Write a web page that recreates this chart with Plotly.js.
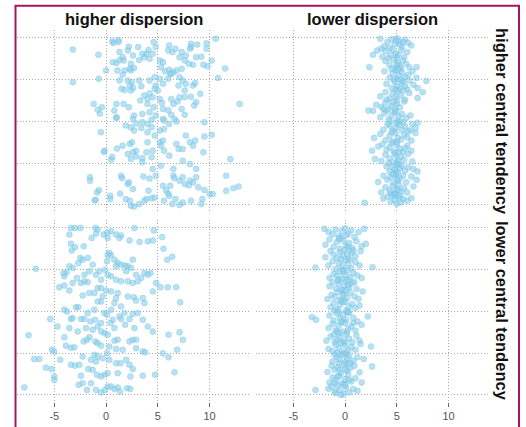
<!DOCTYPE html>
<html><head><meta charset="utf-8">
<script src="https://cdn.plot.ly/plotly-3.0.1.min.js"></script>
<style>html,body{margin:0;padding:0;background:#fff;overflow:hidden}#chart{width:526px;height:427px}</style>
</head><body><div id="chart"></div>
<script>
const colTitles = ['higher dispersion', 'lower dispersion'];
const rowTitles = ['higher central tendency', 'lower central tendency'];
const xTickVals = [-5, 0, 5, 10];
const xTickText = ['-5', '0', '5', '10'];
const yGridVals = [0, 1, 2, 3, 4];

// panel: higher dispersion / higher central tendency
const hdHiCentX = [-3.2,-0.74,0.6,1.2,0.7,1.2,10.6,9.7,9.7,8.2,8.8,8.2,6.1,6.7,6.0,6.4,4.6,4.8,4.1,3.9,3.7,
2.2,3.1,2.6,2.1,1.3,1.6,0.65,1.0,1.3,1.7,2.4,2.3,1.8,1.1,1.6,2.4,2.7,3.2,3.5,4.2,4.5,0,-0.7,-3.2,
5.2,5.5,5.3,5.7,6.1,6.2,6.5,6.8,7.3,7.6,8.0,8.4,8.7,9.2,9.4,10.2,9.8,7.1,7.3,7.7,8.1,11.5,10.8,
1.3,2.1,2.5,2.3,3.2,3.4,2.6,1.5,1.8,2.4,4.2,4.7,5.2,5.5,6.0,6.3,7.1,7.4,7.0,7.7,8.4,8.6,
4.8,5.0,4.7,4.2,4.5,4.0,3.3,3.7,5.2,5.4,7.6,7.6,8.2,8.7,9.1,8.5,7.1,6.9,6.3,6.5,6.0,6.3,
7.6,7.3,5.5,4.6,4.8,4.2,4.0,3.5,2.6,2.7,1.7,1.0,0.8,2.2,-1.2,-0.4,-0.6,1.0,12.9,
1.0,4.4,5.5,6.8,9.5,-0.5,-0.16,0.6,1.06,1.6,1.9,2.4,2.7,2.9,3.4,3.5,4.0,4.4,4.0,4.7,
5.2,5.5,5.3,5.6,6.1,6.8,7.0,7.4,7.7,8.1,8.4,8.6,9.4,9.5,10.2,5.6,6.1,6.6,5.2,5.6,
2.3,2.5,2.9,2.6,2.1,2.4,2.9,3.5,3.9,4.0,4.5,4.4,3.5,12.0,-1.55,-1.55,-0.7,-0.87,-1.1,
0.4,0.4,1.35,1.45,1.55,2.1,2.2,2.6,1.9,2.3,2.4,2.7,3.2,3.7,3.9,4.4,4.7,4.1,3.6,4.2,4.5,4.8,
5.5,5.8,6.0,6.2,6.5,6.6,7.1,7.4,7.6,8.1,8.0,8.4,8.7,8.7,8.9,9.5,10.0,9.3,9.2,8.2,7.4,7.1,6.7,6.4,5.6,6.1,
7.4,8.1,11.6,11.6,12.3,12.8,10.3,5.3,6.5,-0.2,-1.0,0.5,-0.8];
const hdHiCentY = [3.72,3.6,3.92,3.95,3.88,3.9,3.98,3.87,3.74,3.86,3.84,3.78,3.82,3.74,3.7,3.66,3.9,3.78,3.71,3.62,3.54,
3.79,3.78,3.58,3.7,3.66,3.54,3.42,3.4,3.47,3.46,3.38,3.26,3.22,3.22,3.12,3.22,3.28,3.47,3.62,3.5,3.62,3.22,3.02,2.94,
3.46,3.42,3.3,3.2,3.24,3.14,3.18,3.22,3.26,3.46,3.38,3.36,3.54,3.55,3.36,3.46,3.32,3.54,3.66,3.58,3.74,3.27,3.04,
2.98,2.98,2.94,2.86,2.98,2.84,2.8,2.78,2.75,2.74,2.98,3.06,3.02,2.9,3.02,3.14,3.06,2.98,2.86,2.9,2.86,2.92,
2.86,2.74,2.78,2.67,2.58,2.54,2.5,2.62,2.54,2.44,2.74,2.58,2.59,2.46,2.66,2.38,2.58,2.48,2.54,2.42,2.27,2.16,
2.16,2.3,2.3,2.34,2.14,2.22,2.42,2.18,2.06,2.14,2.42,2.42,2.26,2.34,2.42,2.34,2.19,2.1,2.42,
2.08,2.04,2.06,2.0,1.98,1.74,1.3,1.15,1.35,1.42,1.9,1.86,1.78,1.95,1.84,1.98,1.94,1.86,1.74,1.66,
1.5,1.54,1.42,1.3,1.18,1.46,1.34,1.34,1.66,1.5,1.42,1.54,1.26,1.64,1.68,2.02,1.94,2.06,1.78,1.82,
1.46,1.5,1.3,1.26,1.22,1.1,1.16,1.12,1.26,1.5,1.3,1.14,1.02,1.1,0.66,0.58,0.35,0.3,0.11,
0.22,0.14,0.27,0.7,0.64,0.5,0.54,0.38,0.14,0.1,-0.02,-0.04,0.02,0.1,0.14,0.16,0.18,0.34,0.68,0.63,0.86,0.7,
0.46,0.35,0.27,0.46,0.7,0.64,0.58,0.66,0.5,0.58,0.47,0.54,0.66,0.86,0.42,0.36,0.26,0.14,0.02,0.1,0.06,0.0,0.14,0.02,0.1,0.22,
1.06,0.98,0.7,0.34,0.4,0.44,0.26,0.94,0.86,1.27,0.12,1.08,2.28];

// panel: lower dispersion / higher central tendency
const ldHiCentX = [3.4,3.8,4.1,4.5,4.8,5.0,5.2,5.5,5.8,6.1,6.4,4.3,5.6,4.9,5.3,
2.7,3.1,3.6,3.9,4.2,4.6,4.9,5.1,5.4,5.7,6.0,4.4,5.0,3.5,
2.35,3.9,4.3,4.7,4.9,5.1,5.3,5.6,5.9,6.2,6.9,4.5,5.0,5.4,
3.8,4.3,4.6,4.9,5.0,5.2,5.5,5.8,6.1,6.5,6.9,4.7,5.4,5.1,
4.0,4.5,4.8,5.0,5.3,5.5,5.8,6.2,6.6,7.0,7.85,4.9,5.6,6.0,
3.4,3.9,4.3,4.6,4.9,5.1,5.4,5.8,6.2,7.0,7.5,4.0,5.0,5.6,
2.25,2.7,3.0,3.5,3.9,4.2,4.5,4.8,5.0,5.3,5.7,4.0,4.6,3.7,
3.4,3.8,4.2,4.5,4.8,5.0,5.2,5.5,5.9,6.3,7.0,4.9,5.3,4.4,
3.7,4.3,4.6,4.9,5.2,5.5,5.8,6.1,6.5,6.8,5.0,5.6,6.3,4.1,
2.8,3.4,3.9,4.3,4.6,4.9,5.1,5.4,5.7,6.0,6.4,6.8,5.0,4.5,
2.6,3.2,3.6,4.0,4.3,4.7,5.0,5.3,5.6,6.0,6.4,4.5,5.2,5.8,
2.9,3.5,3.9,4.3,4.6,4.9,5.1,5.4,5.7,6.1,6.5,4.8,5.0,4.2,
4.3,4.6,4.8,5.0,5.1,5.3,5.5,5.8,6.1,6.6,7.0,4.9,5.2,4.0,
3.2,3.7,4.1,4.4,4.7,4.9,5.1,5.3,5.6,5.9,6.4,6.9,5.0,4.6,
3.5,3.9,4.3,4.6,4.8,5.0,5.2,5.4,5.7,6.0,6.6,4.7,5.1,4.4,
1.9,3.7,4.1,4.4,4.6,4.8,5.0,5.2,5.4,5.6,6.0,6.4,4.9,5.3];
const ldHiCentY = [3.98,3.8,3.9,3.97,3.85,3.99,3.92,3.78,3.96,3.88,3.82,3.76,3.9,3.94,3.84,
3.6,3.7,3.55,3.68,3.52,3.72,3.62,3.58,3.7,3.54,3.66,3.6,3.52,3.74,
3.3,3.45,3.35,3.48,3.28,3.4,3.32,3.46,3.38,3.3,3.3,3.26,3.36,3.27,
3.2,3.05,3.15,3.22,3.02,3.1,3.18,3.06,3.12,3.2,3.04,3.0,3.0,3.24,
2.9,2.8,2.95,2.85,2.78,2.92,2.84,2.98,2.88,2.8,2.97,2.76,2.96,2.77,
2.6,2.7,2.55,2.66,2.58,2.72,2.62,2.52,2.68,2.56,2.7,2.52,2.5,2.74,
2.26,2.25,2.4,2.35,2.45,2.3,2.38,2.28,2.42,2.34,2.48,2.26,2.46,2.3,
2.1,2.2,2.05,2.15,2.22,2.02,2.12,2.18,2.08,2.14,1.97,2.24,2.0,2.0,
1.8,1.9,1.78,1.85,1.92,1.8,1.88,1.76,1.94,1.84,1.96,1.98,1.79,1.93,
1.6,1.7,1.55,1.65,1.52,1.72,1.6,1.56,1.68,1.62,1.54,1.72,1.5,1.74,
1.3,1.4,1.45,1.32,1.38,1.28,1.44,1.35,1.26,1.42,1.3,1.48,1.27,1.36,
1.1,1.05,1.2,1.12,1.02,1.18,1.06,1.15,1.08,1.22,1.04,1.24,1.0,1.0,
0.8,0.9,0.85,0.96,0.78,0.88,0.94,0.82,0.9,0.86,0.8,0.76,0.98,0.92,
0.55,0.7,0.6,0.66,0.52,0.72,0.58,0.64,0.7,0.54,0.68,0.6,0.62,0.74,
0.3,0.42,0.35,0.45,0.28,0.38,0.48,0.32,0.4,0.3,0.44,0.26,0.36,0.28,
0.05,0.15,0.2,0.08,0.22,0.12,0.02,0.18,0.06,0.14,0.1,0.16,0.24,0.22];

// panel: higher dispersion / lower central tendency
const hdLoCentX = [-3.39,-3.0,-2.48,-1.03,-0.81,-0.23,0.48,0.97,1.45,1.29,2.26,2.74,3.23,4.03,4.61,4.52,5.42,5.55,5.9,6.39,
-3.55,-3.39,-3.0,-3.32,-2.16,-1.39,-0.97,0.1,0.16,
-6.77,-4.03,-3.8,-4.1,-3.55,-3.2,-2.48,-2.26,-2.68,-1.77,-1.29,-1.61,-0.97,-0.65,-0.1,0.16,0.32,0.48,0.1,0.81,1.13,0.97,1.45,1.84,2.1,2.42,1.94,2.58,2.9,3.39,3.71,4.03,4.29,3.06,2.58,2.1,1.45,0.97,0.48,0.16,
-4.52,-4.03,-3.55,-3.23,-2.42,-2.1,-1.77,-2.26,-1.61,-1.13,-0.81,-0.48,-0.32,-0.48,0,0.48,0.97,1.13,2.1,2.68,2.9,3.71,3.55,4.84,5.26,5.97,6.77,7.16,4.52,
-5.39,-4.68,-4.03,-3.77,-3.39,-3.23,-2.9,-2.68,-2.42,-2.1,-1.52,-1.06,-0.81,-0.48,-0.16,0.1,0.42,0.81,1.29,1.45,2.26,2.58,3.06,4.03,4.52,6.03,7.1,7.42,-7.48,
-4.03,-3.87,-3.39,-3.06,-2.16,-1.84,-1.61,-1.03,-0.81,-0.48,-0.16,0.16,0.81,1.13,0.32,0.97,1.61,2.26,2.58,2.9,2.9,3.55,3.77,5.48,6.03,6.87,
-6.94,-6.45,-5.23,-5.0,-5.81,-5.26,-5.0,-5.0,-4.42,-3.39,-3.0,-2.58,-2.26,-1.71,-1.45,-1.13,-0.97,-0.81,-0.32,0.1,0.32,0.97,1.39,1.94,2.26,2.58,2.35,1.13,0.16,-0.16,-0.48,-0.87,-1.29,-2.42,-1.45,-2.26,-2.65,-1.84,-0.97,-0.48,-0.1,0.16,0.48,0.81,1.13,1.35,2.03,2.35,3.55,4.74,6.61,-7.9,
-2.1,-2.81,-0.48,-0.81,0.81,1.45,1.77,0.48,-1.13,-1.77,-3.55,-2.74,-1.94,-1.29,-0.48,0.65,1.84,2.74,3.55];
const hdLoCentY = [4.0,4.0,4.0,4.0,3.96,3.84,3.92,3.84,3.82,3.76,3.7,4.0,3.66,3.68,3.94,3.7,3.78,3.5,3.24,3.31,
3.84,3.62,3.54,3.46,3.56,3.76,3.86,3.88,3.76,
3.02,2.84,2.94,2.92,3.08,3.04,3.28,3.24,3.16,3.28,3.12,2.96,2.88,2.96,3.0,3.36,3.4,3.34,3.2,3.24,3.16,3.08,3.12,3.1,3.08,3.04,2.96,3.24,2.88,2.8,2.92,2.88,2.92,2.72,2.68,2.72,2.72,2.76,2.84,2.88,
2.58,2.62,2.5,2.68,2.68,2.72,2.7,2.38,2.44,2.44,2.56,2.56,2.36,2.24,2.5,2.48,2.32,2.44,2.36,2.34,2.26,2.2,2.32,2.68,2.58,2.58,2.58,2.22,2.48,
1.82,1.64,2.04,2.0,1.82,1.84,2.1,2.1,1.82,1.82,1.76,1.8,1.64,1.72,1.96,1.92,1.72,1.6,1.88,1.82,1.82,1.94,1.96,1.64,1.52,1.44,1.5,1.32,1.43,
1.38,1.18,1.13,1.14,1.28,1.32,1.38,1.28,1.24,1.18,1.48,1.44,1.3,1.32,1.16,1.1,1.08,1.28,1.32,1.32,1.12,1.04,1.02,1.0,0.9,1.08,
0.86,0.86,1.08,1.04,0.65,0.62,0.44,0.36,0.84,0.72,0.7,0.72,0.92,0.62,0.84,0.96,0.8,0.92,0.88,1.0,0.84,0.76,0.76,0.84,0.72,0.62,0.44,0.52,0.52,0.48,0.44,0.48,0.6,0.46,0.28,0.28,0.24,0.12,0.12,0.06,0.12,0.2,0.2,0.14,0.18,0.08,0.16,0.14,0.46,0.48,0.54,0.18,
2.88,2.8,2.76,2.24,2.2,2.12,1.96,2.04,2.04,1.96,1.6,1.52,1.6,1.56,1.52,1.8,1.68,1.6,1.8];

// panel: lower dispersion / lower central tendency
const ldLoCentX = [-2.0,-1.6,-1.2,-0.9,-0.6,-0.3,0,0.3,0.6,0.9,1.3,1.85,-0.4,0.1,
-1.9,-1.5,-1.1,-0.8,-0.5,-0.2,0.1,0.4,0.7,1.1,1.6,2.0,-0.6,0.3,
-1.9,-1.4,-1.1,-0.8,-0.5,-0.2,0.0,0.3,0.6,1.0,1.5,-0.4,0.2,0.8,
-2.85,-1.6,-1.2,-0.9,-0.6,-0.3,0,0.3,0.6,1.0,1.4,2.65,-0.2,0.5,
-1.5,-1.1,-0.8,-0.5,-0.3,0,0.2,0.5,0.8,1.2,1.6,-0.6,0.3,-0.2,
-1.5,-1.2,-0.9,-0.6,-0.4,-0.1,0.1,0.4,0.7,1.1,-0.7,-0.2,0.3,0.9,
-1.7,-1.3,-1.0,-0.7,-0.4,-0.1,0.2,0.5,0.9,1.3,1.7,-0.5,0.1,-0.2,
-1.4,-1.1,-0.8,-0.5,-0.2,0.1,0.4,0.7,1.0,1.4,-0.6,0,0.3,-1.0,
-3.2,-2.8,-1.5,-1.1,-0.8,-0.5,-0.2,0.1,0.4,0.8,1.2,2.2,-0.3,0.2,
-1.6,-1.2,-0.9,-0.6,-0.3,0,0.3,0.6,1.0,1.6,-0.4,0.2,-0.8,0.8,
-1.8,-1.4,-1.1,-0.8,-0.5,-0.2,0.1,0.4,0.7,1.1,1.4,-0.6,0,-1.0,
-1.6,-1.2,-0.9,-0.6,-0.3,0,0.3,0.6,1.0,1.5,2.5,-0.4,0.1,-0.8,
-1.2,-0.8,-0.5,-0.3,0,0.2,0.4,0.8,1.2,1.8,-0.6,-0.1,0.5,-1.0,
-1.7,-1.3,-1.0,-0.7,-0.4,-0.1,0.2,0.5,0.9,1.4,2.6,-0.5,0,0.3,
-1.5,-1.2,-0.9,-0.6,-0.3,0,0.3,0.6,1.0,1.6,-0.7,-0.1,0.4,-1.0,
-2.85,-1.6,-1.3,-1.0,-0.7,-0.5,-0.2,0.1,0.4,0.8,1.2,-0.9,0,-0.4];
const ldLoCentY = [3.98,3.9,3.85,3.96,3.8,3.92,3.99,3.86,3.94,3.78,3.9,3.98,3.76,3.82,
3.6,3.72,3.55,3.66,3.5,3.7,3.58,3.64,3.52,3.68,3.56,3.62,3.74,3.54,
3.3,3.45,3.36,3.28,3.42,3.34,3.48,3.26,3.4,3.32,3.44,3.25,3.38,3.46,
3.05,3.1,3.2,3.02,3.15,3.08,3.22,3.12,3.04,3.18,3.1,3.06,3.0,3.24,
2.8,2.9,2.85,2.95,2.78,2.88,2.98,2.82,2.92,2.86,2.8,2.76,2.76,2.96,
2.6,2.7,2.55,2.66,2.52,2.62,2.72,2.58,2.68,2.54,2.74,2.5,2.64,2.7,
2.3,2.4,2.35,2.46,2.28,2.42,2.32,2.45,2.36,2.3,2.48,2.26,2.5,2.38,
2.1,2.2,2.05,2.15,2.22,2.02,2.12,2.18,2.08,2.14,2.0,2.24,2.0,2.02,
1.86,1.8,1.9,1.78,1.95,1.84,1.92,1.8,1.96,1.85,1.76,1.88,1.76,1.98,
1.6,1.7,1.55,1.66,1.52,1.72,1.58,1.64,1.54,1.68,1.74,1.5,1.52,1.72,
1.3,1.4,1.45,1.32,1.38,1.28,1.44,1.35,1.26,1.42,1.3,1.48,1.27,1.26,
1.1,1.05,1.2,1.12,1.02,1.18,1.06,1.15,1.08,1.22,1.16,1.24,1.0,1.0,
0.8,0.9,0.85,0.96,0.78,0.88,0.94,0.82,0.9,0.86,0.76,0.98,0.76,0.96,
0.55,0.7,0.6,0.66,0.52,0.72,0.58,0.64,0.7,0.54,0.68,0.6,0.62,0.74,
0.3,0.42,0.35,0.45,0.28,0.38,0.48,0.32,0.4,0.3,0.44,0.26,0.36,0.28,
0.12,0.15,0.2,0.08,0.22,0.12,0.02,0.18,0.06,0.14,0.1,0.04,0.24,0.0];

const W = 526, H = 427;
const px = v => v / W;
const py = v => 1 - v / H;

const markerStyle = {size: 6, color: 'rgba(135,206,235,0.6)', line: {width: 0.6, color: 'rgba(110,185,220,0.5)'}};
function pts(x, y, xa, ya) {
  return {type: 'scatter', mode: 'markers', x: x, y: y, xaxis: xa, yaxis: ya,
          marker: markerStyle, hoverinfo: 'skip', showlegend: false, cliponaxis: true};
}
const data = [
  pts(hdHiCentX, hdHiCentY, 'x', 'y'),
  pts(ldHiCentX, ldHiCentY, 'x2', 'y2'),
  pts(hdLoCentX, hdLoCentY, 'x3', 'y3'),
  pts(ldLoCentX, ldLoCentY, 'x4', 'y4')
];

const gridCol = '#a8a8a8';
function xAx(domain, labels, anchor) {
  return {domain: domain, anchor: anchor, range: [-8.6, 13.9], tickvals: xTickVals, ticktext: xTickText,
    showgrid: true, gridcolor: gridCol, griddash: '1px,2px', gridwidth: 1, zeroline: false, showline: false,
    showticklabels: labels, ticks: labels ? 'outside' : '', ticklen: 4, tickcolor: '#666', tickwidth: 1,
    tickfont: {family: 'Liberation Sans, Arial, sans-serif', size: 11, color: '#555'}, fixedrange: true};
}
function yAx(domain, anchor) {
  return {domain: domain, anchor: anchor, range: [-0.17, 4.19], tickvals: yGridVals, showgrid: true, gridcolor: gridCol,
    griddash: '1px,2px', gridwidth: 1, zeroline: false, showline: false, showticklabels: false, ticks: '', fixedrange: true};
}
const col1 = [px(17), px(250)], col2 = [px(256), px(489)];
const row1 = [py(212), py(30)], row2 = [py(402), py(220)];

const titleFont = {family: 'Liberation Sans, Arial, sans-serif', size: 16.5, color: '#111'};
const annotations = [
  {text: '<b>' + colTitles[0] + '</b>', x: (col1[0] + col1[1]) / 2, y: py(19), xref: 'paper', yref: 'paper', showarrow: false, xanchor: 'center', yanchor: 'middle', font: titleFont},
  {text: '<b>' + colTitles[1] + '</b>', x: (col2[0] + col2[1]) / 2, y: py(19), xref: 'paper', yref: 'paper', showarrow: false, xanchor: 'center', yanchor: 'middle', font: titleFont},
  {text: '<b>' + rowTitles[0] + '</b>', x: px(502), y: (row1[0] + row1[1]) / 2, xref: 'paper', yref: 'paper', showarrow: false, xanchor: 'center', yanchor: 'middle', textangle: 90, font: titleFont},
  {text: '<b>' + rowTitles[1] + '</b>', x: px(502), y: (row2[0] + row2[1]) / 2, xref: 'paper', yref: 'paper', showarrow: false, xanchor: 'center', yanchor: 'middle', textangle: 90, font: titleFont}
];

const layout = {
  width: W, height: H, margin: {l: 0, r: 0, t: 0, b: 0},
  paper_bgcolor: '#fff', plot_bgcolor: '#fff', showlegend: false,
  xaxis: xAx(col1, false, 'y'), yaxis: yAx(row1, 'x'),
  xaxis2: xAx(col2, false, 'y2'), yaxis2: yAx(row1, 'x2'),
  xaxis3: xAx(col1, true, 'y3'), yaxis3: yAx(row2, 'x3'),
  xaxis4: xAx(col2, true, 'y4'), yaxis4: yAx(row2, 'x4'),
  annotations: annotations,
  shapes: [{type: 'rect', xref: 'paper', yref: 'paper', x0: px(15.5), x1: px(519), y0: -0.1, y1: py(5.8),
            line: {color: '#a3175d', width: 2}, fillcolor: 'rgba(0,0,0,0)', layer: 'above'}]
};
Plotly.newPlot('chart', data, layout, {staticPlot: true, displayModeBar: false});
</script></body></html>
